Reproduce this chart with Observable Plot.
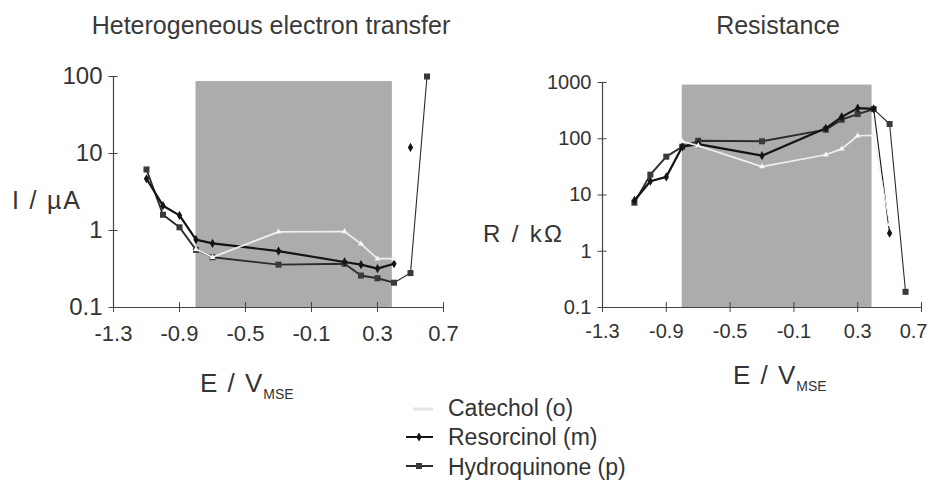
<!DOCTYPE html>
<html><head><meta charset="utf-8">
<script src="https://cdn.jsdelivr.net/npm/d3@7"></script>
<script src="https://cdn.jsdelivr.net/npm/@observablehq/plot@0.6"></script>
<style>
body{margin:0;background:#fff;}
#fig{position:relative;width:931px;height:499px;overflow:hidden;font-family:"Liberation Sans",Arial,sans-serif;background:#fff;}
#fig svg{position:absolute;overflow:visible;}
</style></head><body><div id="fig"></div>
<script>
// ---------- data ----------
const seriesNames = ["Catechol (o)", "Resorcinol (m)", "Hydroquinone (p)"];
const potentialE = [-1.1, -1.0, -0.9, -0.8, -0.7, -0.3, 0.1, 0.2, 0.3, 0.4, 0.5, 0.6];

// Heterogeneous electron transfer, I / µA
const catecholI     = [null, null, null, 0.57, 0.45, 0.96, 0.97, 0.67, 0.43, 0.43, null, null];
const resorcinolI   = [4.7, 2.1, 1.57, 0.76, 0.68, 0.54, 0.39, 0.36, 0.32, 0.37, 12, null];
const hydroquinoneI = [6.2, 1.6, 1.1, 0.56, 0.45, 0.36, 0.37, 0.26, 0.24, 0.21, 0.28, 100];

// Resistance, R / kΩ
const catecholR     = [null, null, null, 90, 75, 32, 52, 66, 113, 115, 3, null];
const resorcinolR   = [8, 17.6, 21, 72, 80, 50, 153, 245, 350, 340, 2.1, null];
const hydroquinoneR = [7.3, 23, 48, 72, 92, 90, 145, 218, 275, 337, 183, 0.19];

const xTicks = [-1.3, -0.9, -0.5, -0.1, 0.3, 0.7];
const currentTicks = [0.1, 1, 10, 100];
const resistanceTicks = [0.1, 1, 10, 100, 1000];
const xDomain = [-1.3, 0.7];
const currentDomain = [0.1, 100];
const resistanceDomain = [0.1, 1000];
const shadedE = [-0.8, 0.39];
const shadeTopI = 86;
const shadeTopR = 900;
const tailStartE = 0.4;
const currentTailLinked = [false, false, true];
const resistanceTailLinked = [true, true, true];

// ---------- styles ----------
const styles = [
  {stroke: "#efefef", width: 1.7, symbol: "triangle", fill: "#f6f6f6", r: 2.2},
  {stroke: "#141414", width: 2.2, symbol: "diamond", fill: "#141414", r: 2.8},
  {stroke: "#2c2c2c", width: 1.9, symbol: "square", fill: "#3a3a3a", r: 3.4}
];
const drawOrder = [2, 1, 0];
const fmt = d => d.toFixed(1);

function panel(values, yDomain, yTicks, shadeTop, linked, m) {
  const last = xTicks[xTicks.length - 1];
  const marks = [
    Plot.rect([{x1: shadedE[0], x2: shadedE[1], y1: yDomain[0], y2: shadeTop}],
      {x1: "x1", x2: "x2", y1: "y1", y2: "y2", fill: "#acacac"}),
    Plot.ruleY([yDomain[0]], {stroke: "#444", strokeWidth: 1.2}),
    Plot.ruleX([xDomain[0]], {stroke: "#444", strokeWidth: 1.2}),
    Plot.axisX({ticks: xTicks, tickFormat: d => (m.shiftLast && d === last) ? "" : fmt(d),
      tickSize: 10, dy: -5, tickPadding: m.xPad,
      fontSize: m.xFont, fill: "#333", stroke: "#444", label: null}),
    Plot.axisY({ticks: yTicks, tickFormat: d => String(d), tickSize: 9, dx: 4.5, tickPadding: 6.5,
      fontSize: m.yFont, fill: "#333", stroke: "#444", label: null})
  ];
  if (m.shiftLast) {
    marks.push(Plot.text([last], {x: d => d, text: fmt, frameAnchor: "bottom", textAnchor: "end",
      lineAnchor: "top", dx: 6, dy: 5 + m.xPad, fontSize: m.xFont, fill: "#333"}));
  }
  for (const i of drawOrder) {
    const s = styles[i];
    const rows = potentialE.map((e, j) => ({E: e, v: values[i][j]})).filter(d => d.v != null);
    const main = rows.filter(d => d.E <= tailStartE);
    const tail = rows.filter(d => d.E >= tailStartE);
    marks.push(Plot.line(main, {x: "E", y: "v", stroke: s.stroke, strokeWidth: s.width}));
    if (linked[i] && tail.length > 1)
      marks.push(Plot.line(tail, {x: "E", y: "v", stroke: s.stroke, strokeWidth: 1.1}));
    marks.push(Plot.dot(rows, {x: "E", y: "v", symbol: () => s.symbol, fill: s.fill, r: s.r, stroke: "none"}));
  }
  return Plot.plot({
    width: m.width, height: m.height,
    marginLeft: m.left, marginRight: m.right, marginTop: m.top, marginBottom: m.bottom,
    x: {domain: xDomain},
    y: {type: "log", domain: yDomain},
    symbol: {type: "identity"},
    style: {fontFamily: "'Liberation Sans', Arial, sans-serif", background: "transparent", overflow: "visible"},
    marks
  });
}

const fig = document.getElementById("fig");

const left = panel([catecholI, resorcinolI, hydroquinoneI], currentDomain, currentTicks, shadeTopI,
  currentTailLinked, {width: 465, height: 340, left: 113, right: 22, top: 76, bottom: 33,
  xFont: 22, yFont: 24, xPad: 13, shiftLast: false});
left.style.left = "0px"; left.style.top = "0px";
fig.appendChild(left);

const right = panel([catecholR, resorcinolR, hydroquinoneR], resistanceDomain, resistanceTicks, shadeTopR,
  resistanceTailLinked, {width: 466, height: 340, left: 137, right: 10, top: 82, bottom: 33,
  xFont: 20, yFont: 20, xPad: 11, shiftLast: true});
right.style.left = "465px"; right.style.top = "0px";
fig.appendChild(right);

// ---------- titles, labels, legend ----------
const ov = d3.select(fig).append("svg").attr("width", 931).attr("height", 499)
  .style("left", "0px").style("top", "0px")
  .style("font-family", "'Liberation Sans', Arial, sans-serif");

function txt(x, y, s, size, opts = {}) {
  const t = ov.append("text").attr("x", x).attr("y", y).attr("font-size", size)
    .attr("fill", opts.fill || "#333").attr("text-anchor", opts.anchor || "start").text(s);
  if (opts.len) t.attr("textLength", opts.len).attr("lengthAdjust", "spacing");
  return t;
}
txt(271, 34, "Heterogeneous electron transfer", 25, {anchor: "middle", fill: "#3a3a3a"});
txt(778, 34, "Resistance", 25, {anchor: "middle", fill: "#3a3a3a"});
txt(12, 209, "I / µA", 25, {len: 68});
txt(483, 242, "R / kΩ", 24, {len: 79});

function eLabel(x0, base) {
  const t = ov.append("text").attr("x", x0).attr("y", base).attr("font-size", 26)
    .attr("fill", "#333").attr("word-spacing", 3);
  t.append("tspan").text("E / V");
  t.append("tspan").attr("font-size", 14).attr("dy", 7).attr("dx", 1).text("MSE");
}
eLabel(200, 392);
eLabel(733, 384);

const legendY = [409, 437, 466];
const legendBase = [416, 445, 475];
seriesNames.forEach((name, i) => {
  const s = styles[i];
  ov.append("line").attr("x1", i === 0 ? 413 : 406).attr("x2", 433)
    .attr("y1", legendY[i]).attr("y2", legendY[i])
    .attr("stroke", i === 0 ? "#e4e4e4" : s.stroke).attr("stroke-width", i === 0 ? 3 : 2);
  if (i > 0) {
    const sym = i === 1 ? d3.symbolDiamond : d3.symbolSquare;
    ov.append("path").attr("d", d3.symbol(sym, Math.PI * s.r * s.r)())
      .attr("transform", `translate(419,${legendY[i]})`).attr("fill", s.fill);
  }
  txt(448, legendBase[i], name, 23);
});
</script>
</body></html>
